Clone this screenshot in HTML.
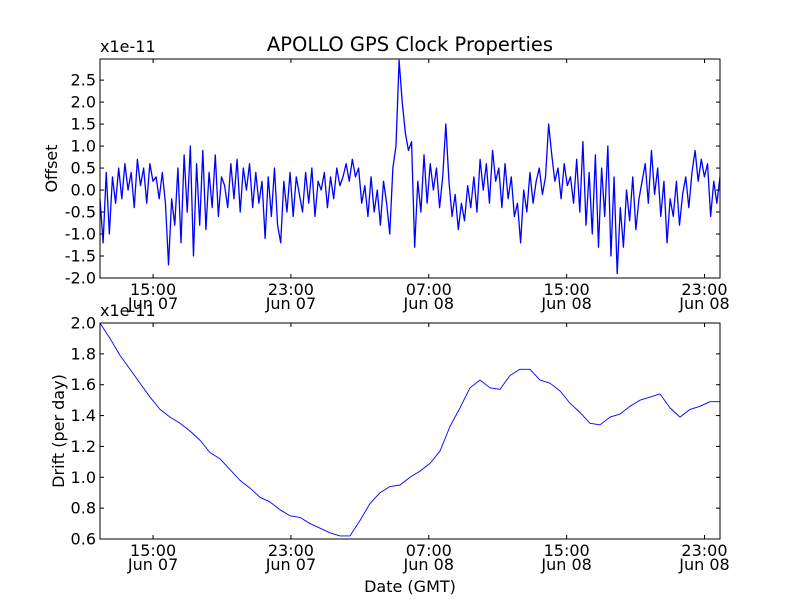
<!DOCTYPE html>
<html><head><meta charset="utf-8"><style>
body{margin:0;background:#fff}
svg text{font-family:"DejaVu Sans","Liberation Sans",sans-serif;fill:#000}
</style></head><body>
<svg id="chart" width="800" height="600" xmlns="http://www.w3.org/2000/svg">
<rect width="800" height="600" fill="#fff"/>
<text x="410" y="51" font-size="19.5" text-anchor="middle">APOLLO GPS Clock Properties</text>
<g id="top"></g>
<g id="bot"></g>
<text x="410" y="592" font-size="16" text-anchor="middle">Date (GMT)</text>
</svg>
<script>
const offsetValues=[-0.2,-1.2,0.4,-1.0,0.3,
-0.3,0.5,-0.2,0.6,0.0,0.4,-0.4,0.7,0.1,0.5,-0.3,0.6,0.2,0.3,-0.2,0.4,
-0.3,-1.7,-0.2,
-0.8,0.5,-1.2,0.8,-0.5,1.0,-1.5,0.6,-0.8,0.9,-0.9,0.4,-0.4,0.8,-0.6,0.3,0.1,
-0.4,0.6,-0.2,0.7,-0.5,0.5,0.0,0.6,-0.4,0.4,-0.3,0.2,-1.1,
0.3,-0.6,0.5,-0.8,-1.2,0.2,-0.5,0.4,-0.6,0.3,-0.1,
-0.5,0.4,-0.3,0.5,-0.6,0.2,0.0,0.4,-0.4,0.3,-0.2,0.5,0.1,0.3,
0.6,0.2,0.7,0.3,0.5,
-0.3,0.1,-0.6,0.3,-0.5,0.0,-0.8,0.2,-0.3,-1.0,
0.5,1.0,2.95,2.0,1.3,0.9,1.1,-1.3,0.2,
-0.5,0.8,-0.3,0.6,0.0,0.5,-0.4,0.3,1.5,
0.2,-0.6,-0.1,-0.9,-0.3,-0.7,0.1,-0.4,
0.3,-0.5,0.7,0.0,0.6,-0.3,0.9,0.2,0.5,-0.4,0.6,-0.2,0.3,
-0.6,-0.3,-1.2,
0.0,-0.5,0.4,-0.3,0.2,0.5,-0.1,0.3,
1.5,0.8,0.2,0.5,-0.2,0.6,0.1,0.3,-0.3,
0.7,-0.5,1.1,-0.8,0.4,-1.0,0.8,-1.3,0.5,-0.6,1.0,-1.5,0.3,-1.9,-0.4,
-1.3,0.0,-0.7,0.3,-0.9,-0.2,0.2,
0.6,-0.3,0.9,-0.1,0.5,-0.6,0.2,
-1.2,-0.2,-0.6,0.2,-0.8,-0.1,0.3,-0.4,0.4,
0.9,0.2,0.7,0.3,0.6,
-0.6,0.2,-0.3,0.3];
const driftValues=[2.00,1.90,1.79,1.70,1.61,1.52,1.44,1.39,1.35,1.30,1.24,1.16,1.12,1.05,0.98,0.93,0.87,0.84,0.79,0.75,0.74,0.70,0.67,0.64,0.62,0.62,0.72,0.83,0.90,0.94,0.95,1.00,1.04,1.09,1.17,1.33,1.45,1.58,1.63,1.58,1.57,1.66,1.70,1.70,1.63,1.61,1.56,1.48,1.42,1.35,1.34,1.39,1.41,1.46,1.50,1.52,1.54,1.45,1.39,1.44,1.46,1.49,1.49];
const xTickHours=[15,23,31,39,47];
const xTickTimes=["15:00","23:00","07:00","15:00","23:00"];
const xTickDates=["Jun 07","Jun 07","Jun 08","Jun 08","Jun 08"];
const offsetTicks=[-2.0,-1.5,-1.0,-0.5,0.0,0.5,1.0,1.5,2.0,2.5];
const driftTicks=[0.6,0.8,1.0,1.2,1.4,1.6,1.8,2.0];
const tStart=11.92, tEnd=47.9;
const NS="http://www.w3.org/2000/svg";
const L=100,R=720;
function xs(h){return L+(h-tStart)/(tEnd-tStart)*(R-L);}
function mk(tag,attrs,parent,text){const e=document.createElementNS(NS,tag);for(const k in attrs)e.setAttribute(k,attrs[k]);if(text!==undefined)e.textContent=text;parent.appendChild(e);return e;}
function panel(g,top,bot,ymin,ymax,yticks,fmt,values,ylabel,lw,nm){
  const ys=v=>bot-(v-ymin)/(ymax-ymin)*(bot-top);
  const n=values.length;
  let d="";
  values.forEach((v,i)=>{const h=tStart+i*(tEnd-tStart)/(n-1);d+=(i?"L":"M")+xs(h).toFixed(2)+","+ys(Math.min(ymax,v)).toFixed(2);});
  const cp=mk("clipPath",{id:"cp"+nm},g);mk("rect",{x:L,y:top,width:R-L,height:bot-top},cp);
  const p=mk("path",{d:d,fill:"none",stroke:"#0000ff","stroke-width":lw,"stroke-linejoin":"round","clip-path":"url(#cp"+nm+")"},g);
  
  
  const fr=mk("rect",{x:L,y:top,width:R-L,height:bot-top,fill:"none",stroke:"#000","stroke-width":1},g);
  
  
  yticks.forEach(v=>{const y=ys(v);
    mk("line",{x1:L,x2:L+4,y1:y,y2:y,stroke:"#000"},g);mk("line",{x1:R-4,x2:R,y1:y,y2:y,stroke:"#000"},g);
    const t=mk("text",{x:L-4,y:y+5.5,"font-size":16,"text-anchor":"end"},g,fmt(v));
    
    
  });
  xTickHours.forEach((h,i)=>{const x=xs(h);
    mk("line",{x1:x,x2:x,y1:bot,y2:bot-4,stroke:"#000"},g);mk("line",{x1:x,x2:x,y1:top,y2:top+4,stroke:"#000"},g);
    const t1=mk("text",{x:x,y:bot+17,"font-size":16,"text-anchor":"middle"},g,xTickTimes[i]);
    
    
    const t2=mk("text",{x:x,y:bot+31,"font-size":16,"text-anchor":"middle"},g,xTickDates[i]);
    
    
  });
  const ex=mk("text",{x:L,y:top-7,"font-size":16},g,"x1e-11");
  
  
  const yl=mk("text",{x:0,y:0,"font-size":16,"text-anchor":"middle",transform:"translate("+(nm==="offset"?57:64)+","+((top+bot)/2)+") rotate(-90)"},g,ylabel);
  
  
}
panel(document.getElementById("top"),59,278,-2.0,2.98,offsetTicks,v=>v.toFixed(1),offsetValues,"Offset",1.3,"offset");
panel(document.getElementById("bot"),323,539,0.6,2.0,driftTicks,v=>v.toFixed(1),driftValues,"Drift (per day)",0.9,"drift");
</script>
</body></html>
